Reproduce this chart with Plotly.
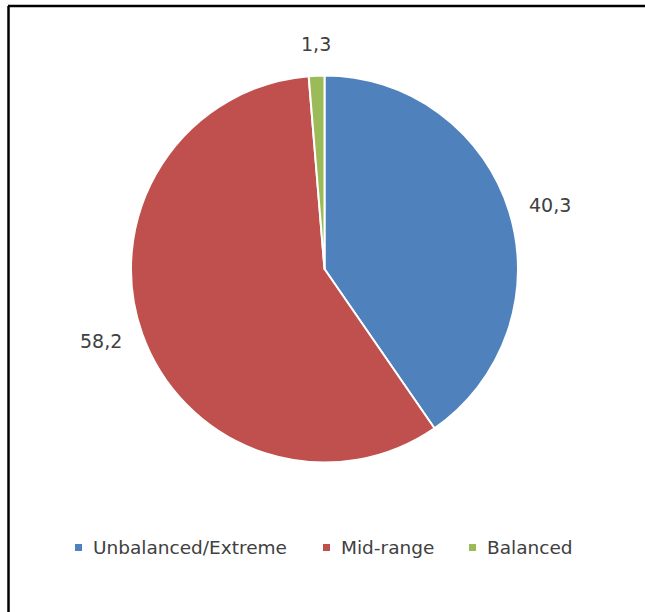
import math
import plotly.graph_objects as go

categories = ["Unbalanced/Extreme", "Mid-range", "Balanced"]
values = [40.3, 58.2, 1.3]
colors = ["#4F81BD", "#C0504D", "#9BBB59"]

W, H = 645, 612
cx, cy, R = 324.5, 269.0, 193.5
text_color = "#404040"
font_family = "DejaVu Sans"

fig = go.Figure()
fig.add_trace(go.Pie(
    labels=categories,
    values=values,
    sort=False,
    direction="clockwise",
    rotation=0,
    marker=dict(colors=colors, line=dict(color="white", width=2)),
    textinfo="none",
    hoverinfo="label+value",
    showlegend=False,
    domain=dict(x=[(cx - R) / W, (cx + R) / W], y=[1 - (cy + R) / H, 1 - (cy - R) / H]),
))

# value labels placed just outside the end of each slice along its mid-angle
total = sum(values)
cum = 0.0
label_dist = R + 20
for v in values:
    mid = (cum + v / 2) / total * 2 * math.pi
    cum += v
    s, c = math.sin(mid), math.cos(mid)
    px = cx + label_dist * s
    py = cy - label_dist * c
    xa = "left" if s > 0.3 else ("right" if s < -0.3 else "center")
    ya = "bottom" if c > 0.5 else ("top" if c < -0.5 else "middle")
    fig.add_annotation(
        x=px / W, y=1 - py / H, xref="paper", yref="paper",
        text=f"{v:.1f}".replace(".", ","), showarrow=False,
        font=dict(family=font_family, size=19, color=text_color),
        xanchor=xa, yanchor=ya, borderpad=0,
    )

# manual legend
legend_y = 547.5
legend_x = [75, 323, 469]
sq = 7
for name, col, lx in zip(categories, colors, legend_x):
    fig.add_shape(type="rect", xref="paper", yref="paper",
                  x0=lx / W, x1=(lx + sq) / W,
                  y0=1 - (legend_y + sq / 2) / H, y1=1 - (legend_y - sq / 2) / H,
                  fillcolor=col, line=dict(width=0))
    fig.add_annotation(
        x=(lx + 16) / W, y=1 - legend_y / H, xref="paper", yref="paper",
        text=name, showarrow=False, xanchor="left", yanchor="middle",
        font=dict(family=font_family, size=18.5, color=text_color),
    )

# chart frame (top and left edges visible)
fig.add_shape(type="line", xref="paper", yref="paper",
              x0=8 / W, x1=1.0, y0=1 - 6 / H, y1=1 - 6 / H,
              line=dict(color="black", width=2.5))
fig.add_shape(type="line", xref="paper", yref="paper",
              x0=8.5 / W, x1=8.5 / W, y0=0.0, y1=1 - 6 / H,
              line=dict(color="black", width=2.5))

fig.update_layout(
    width=W, height=H,
    margin=dict(l=0, r=0, t=0, b=0),
    paper_bgcolor="white", plot_bgcolor="white",
    showlegend=False,
)

fig.write_html("out.html")
